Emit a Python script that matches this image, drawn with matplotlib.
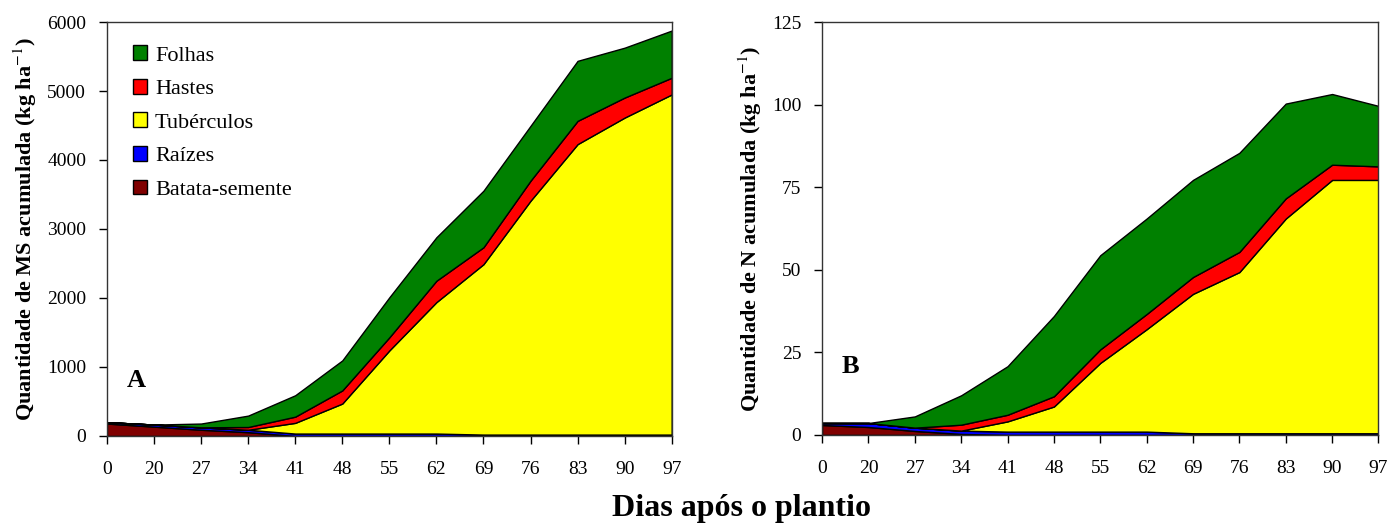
import numpy as np
import matplotlib.pyplot as plt
from matplotlib.patches import Patch

plt.rcParams['font.family'] = ['Liberation Serif', 'DejaVu Serif']
plt.rcParams['mathtext.fontset'] = 'stix'

# Dias apos o plantio (categorias do eixo x)
dias = ['0', '20', '27', '34', '41', '48', '55', '62', '69', '76', '83', '90', '97']

# A - materia seca acumulada (kg/ha)
ms_semente = [180, 135, 90, 55, 0, 0, 0, 0, 0, 0, 0, 0, 0]
ms_raizes = [20, 30, 35, 35, 35, 35, 35, 35, 20, 20, 20, 20, 20]
ms_tuberculos = [0, 0, 0, 0, 155, 435, 1205, 1905, 2470, 3390, 4210, 4595, 4930]
ms_hastes = [0, 0, 0, 40, 90, 190, 190, 310, 245, 290, 337, 290, 242]
ms_folhas = [0, 0, 55, 165, 310, 435, 580, 630, 820, 795, 870, 723, 684]

# B - nitrogenio acumulado (kg/ha)
n_semente = [3.0, 2.4, 1.2, 0.3, 0, 0, 0, 0, 0, 0, 0, 0, 0]
n_raizes = [0.6, 1.2, 1.0, 1.0, 1.0, 1.0, 1.0, 1.0, 0.5, 0.5, 0.5, 0.5, 0.5]
n_tuberculos = [0, 0, 0, 0, 3.1, 7.6, 20.8, 31.0, 42.2, 48.8, 65.0, 76.7, 76.7]
n_hastes = [0, 0, 0, 1.8, 2.0, 3.1, 4.1, 4.6, 5.1, 6.1, 6.1, 4.6, 4.1]
n_folhas = [0, 0, 3.4, 8.9, 14.7, 24.3, 28.5, 28.9, 29.4, 30.0, 28.7, 21.4, 18.3]

nomes = ['Batata-semente', 'Raízes', 'Tubérculos', 'Hastes', 'Folhas']
cores = ['#800000', '#0000ff', '#ffff00', '#ff0000', '#008000']

fig = plt.figure(figsize=(13.91, 5.24), dpi=100)
axA = fig.add_axes([0.0769, 0.168, 0.406, 0.790])
axB = fig.add_axes([0.591, 0.170, 0.400, 0.788])

x = np.arange(len(dias))


def desenha(ax, camadas, ymax, passo, rotulo, letra, lx, ly):
    ax.stackplot(x, *camadas, colors=cores, edgecolor='black', linewidth=1.0)
    ax.set_xlim(0, len(dias) - 1)
    ax.set_ylim(0, ymax)
    ax.set_xticks(x)
    ax.set_xticklabels(dias)
    ax.set_yticks(np.arange(0, ymax + 1, passo))
    ax.tick_params(direction='out', length=6, width=1, labelsize=14, pad=9)
    ax.tick_params(axis='x', pad=12)
    for s in ax.spines.values():
        s.set_linewidth(1.0)
        s.set_color('#333333')
    ax.set_ylabel(rotulo, fontsize=16, fontweight='bold', labelpad=6)
    ax.text(lx, ly, letra, transform=ax.transAxes, fontsize=19,
            fontweight='bold', va='center', ha='left')


desenha(axA, [ms_semente, ms_raizes, ms_tuberculos, ms_hastes, ms_folhas],
        6000, 1000, r'Quantidade de MS acumulada (kg ha$^{-1}$)', 'A', 0.035, 0.135)
desenha(axB, [n_semente, n_raizes, n_tuberculos, n_hastes, n_folhas],
        125, 25, r'Quantidade de N acumulada (kg ha$^{-1}$)', 'B', 0.035, 0.165)

handles = [Patch(facecolor=c, edgecolor='black', label=n) for n, c in zip(nomes, cores)][::-1]
axA.legend(handles=handles, loc='upper left', frameon=False, fontsize=16,
           handlelength=0.65, handleheight=0.65, handletextpad=0.35,
           labelspacing=0.6, borderaxespad=0, bbox_to_anchor=(0.03, 0.965))

fig.text(0.533, 0.03, 'Dias após o plantio', ha='center', va='center',
         fontsize=23, fontweight='bold')

fig.savefig('out.png', dpi=100)
